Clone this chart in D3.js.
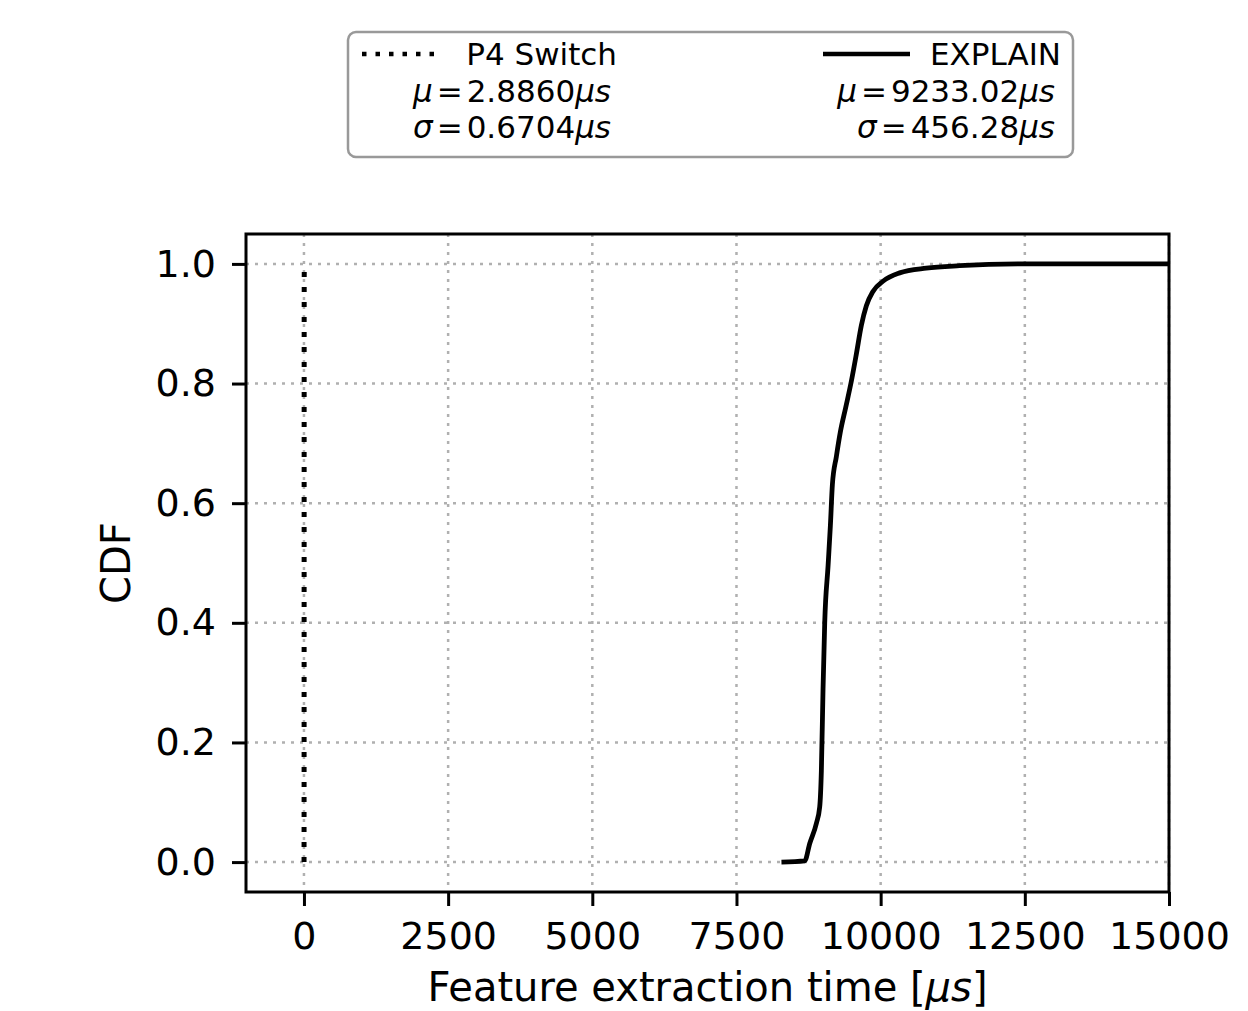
<!DOCTYPE html>
<html>
<head>
<meta charset="utf-8">
<script src="https://cdn.jsdelivr.net/npm/d3@7"></script>
<style>
  body { margin: 0; background: #ffffff; }
  text { font-family: "DejaVu Sans", sans-serif; fill: #000; }
</style>
</head>
<body>
<div id="chart"></div>
<script>
// ---- data ----
const explainTime = [8280, 8684, 8770, 8886, 8943, 8972, 9001, 9030, 9088, 9128, 9163, 9232, 9301, 9394, 9492, 9578, 9665, 9752, 9867, 10040, 10329, 10791, 11368, 12523, 15200];
const explainCdf  = [0, 0.002, 0.031, 0.065, 0.092, 0.153, 0.29, 0.40, 0.495, 0.562, 0.631, 0.678, 0.719, 0.760, 0.804, 0.849, 0.897, 0.930, 0.954, 0.971, 0.985, 0.993, 0.997, 1.0, 1.0];

const p4Time = [1.5, 2.2, 2.6, 2.9, 3.2, 3.6, 4.5, 7.0];
const p4Cdf  = [0, 0.1, 0.3, 0.5, 0.7, 0.9, 0.98, 1.0];

const xTicks = [0, 2500, 5000, 7500, 10000, 12500, 15000];
const yTicks = [0, 0.2, 0.4, 0.6, 0.8, 1.0];

const legendItems = [
  { name: "P4 Switch", mu: "2.8860", sigma: "0.6704", dash: "dotted" },
  { name: "EXPLAIN",   mu: "9233.02", sigma: "456.28", dash: "solid" }
];

// ---- layout ----
const width = 1248, height = 1011;
const plot = { left: 246, right: 1169, top: 234, bottom: 892 };

const svg = d3.select("#chart").append("svg")
  .attr("width", width)
  .attr("height", height);

const x = d3.scaleLinear().domain([-1005, 15000]).range([plot.left, plot.right]);
const y = d3.scaleLinear().domain([-0.05, 1.05]).range([plot.bottom, plot.top]);

// grid
const grid = svg.append("g").attr("class", "grid")
  .attr("stroke", "#b0b0b0").attr("stroke-width", 2.5).attr("stroke-dasharray", "3,6");

grid.selectAll("line.gx").data(xTicks).join("line")
  .attr("class", "gx")
  .attr("x1", d => x(d)).attr("x2", d => x(d))
  .attr("y1", plot.top).attr("y2", plot.bottom);

grid.selectAll("line.gy").data(yTicks).join("line")
  .attr("class", "gy")
  .attr("y1", d => y(d)).attr("y2", d => y(d))
  .attr("x1", plot.left).attr("x2", plot.right);

// clip for the lines
svg.append("clipPath").attr("id", "clip")
  .append("rect")
  .attr("x", plot.left).attr("y", plot.top)
  .attr("width", plot.right - plot.left).attr("height", plot.bottom - plot.top);

const line = d3.line()
  .x(d => x(d[0]))
  .y(d => y(d[1]))
  .curve(d3.curveMonotoneX);

svg.append("path")
  .datum(d3.zip(explainTime, explainCdf))
  .attr("clip-path", "url(#clip)")
  .attr("fill", "none")
  .attr("stroke", "#000")
  .attr("stroke-width", 4.8)
  .attr("stroke-linejoin", "round")
  .attr("d", line);

svg.append("path")
  .datum(d3.zip(p4Time, p4Cdf))
  .attr("fill", "none")
  .attr("stroke", "#000")
  .attr("stroke-width", 5)
  .attr("stroke-dasharray", "5,10")
  .attr("d", d3.line().x(d => x(d[0])).y(d => y(d[1])));

// axes
const xAxis = svg.append("g")
  .attr("transform", `translate(0,${plot.bottom})`)
  .call(d3.axisBottom(x).tickValues(xTicks).tickSize(14).tickPadding(16).tickFormat(d3.format("d")));

const yAxis = svg.append("g")
  .attr("transform", `translate(${plot.left},0)`)
  .call(d3.axisLeft(y).tickValues(yTicks).tickSize(14).tickPadding(16).tickFormat(d3.format(".1f")));

[xAxis, yAxis].forEach(a => {
  a.select(".domain").remove();
  a.selectAll(".tick line").attr("stroke", "#000").attr("stroke-width", 3);
  a.selectAll(".tick text").attr("font-size", 38).attr("font-family", "DejaVu Sans");
});
xAxis.selectAll(".tick text").attr("dy", "0.71em");

// spines
svg.append("rect")
  .attr("x", plot.left).attr("y", plot.top)
  .attr("width", plot.right - plot.left).attr("height", plot.bottom - plot.top)
  .attr("fill", "none")
  .attr("stroke", "#000")
  .attr("stroke-width", 3);

// axis labels
const xLabel = svg.append("text")
  .attr("x", (plot.left + plot.right) / 2)
  .attr("y", 1001)
  .attr("text-anchor", "middle")
  .attr("font-size", 40);
xLabel.append("tspan").text("Feature extraction time [");
xLabel.append("tspan").attr("font-style", "italic").text("μs");
xLabel.append("tspan").text("]");

svg.append("text")
  .attr("transform", "translate(130,563) rotate(-90)")
  .attr("text-anchor", "middle")
  .attr("font-size", 40)
  .text("CDF");

// legend
const legend = svg.append("g").attr("class", "legend");
legend.append("rect")
  .attr("x", 348).attr("y", 32)
  .attr("width", 725).attr("height", 125)
  .attr("rx", 8)
  .attr("fill", "#fff")
  .attr("stroke", "#999")
  .attr("stroke-width", 2.5);

const legendCols = [
  { handleX: [362, 440], textRight: 617 },
  { handleX: [823, 910], textRight: 1061 }
];

legendItems.forEach((item, i) => {
  const col = legendCols[i];
  legend.append("line")
    .attr("x1", col.handleX[0]).attr("x2", col.handleX[1])
    .attr("y1", 54).attr("y2", 54)
    .attr("stroke", "#000")
    .attr("stroke-width", 4.5)
    .attr("stroke-dasharray", item.dash === "dotted" ? "4.5,9" : null);

  legend.append("text")
    .attr("x", col.textRight).attr("y", 65)
    .attr("text-anchor", "end")
    .attr("font-size", 31)
    .text(item.name);

  const rows = [["μ", item.mu, 102], ["σ", item.sigma, 138]];
  rows.forEach(([sym, val, yy]) => {
    const t = legend.append("text")
      .attr("x", col.textRight - 6).attr("y", yy)
      .attr("text-anchor", "end")
      .attr("font-size", 31);
    t.append("tspan").attr("font-style", "italic").text(sym);
    t.append("tspan").attr("dx", 4).text("=");
    t.append("tspan").attr("dx", 4).text(val);
    t.append("tspan").attr("font-style", "italic").text("μs");
  });
});
</script>
</body>
</html>
